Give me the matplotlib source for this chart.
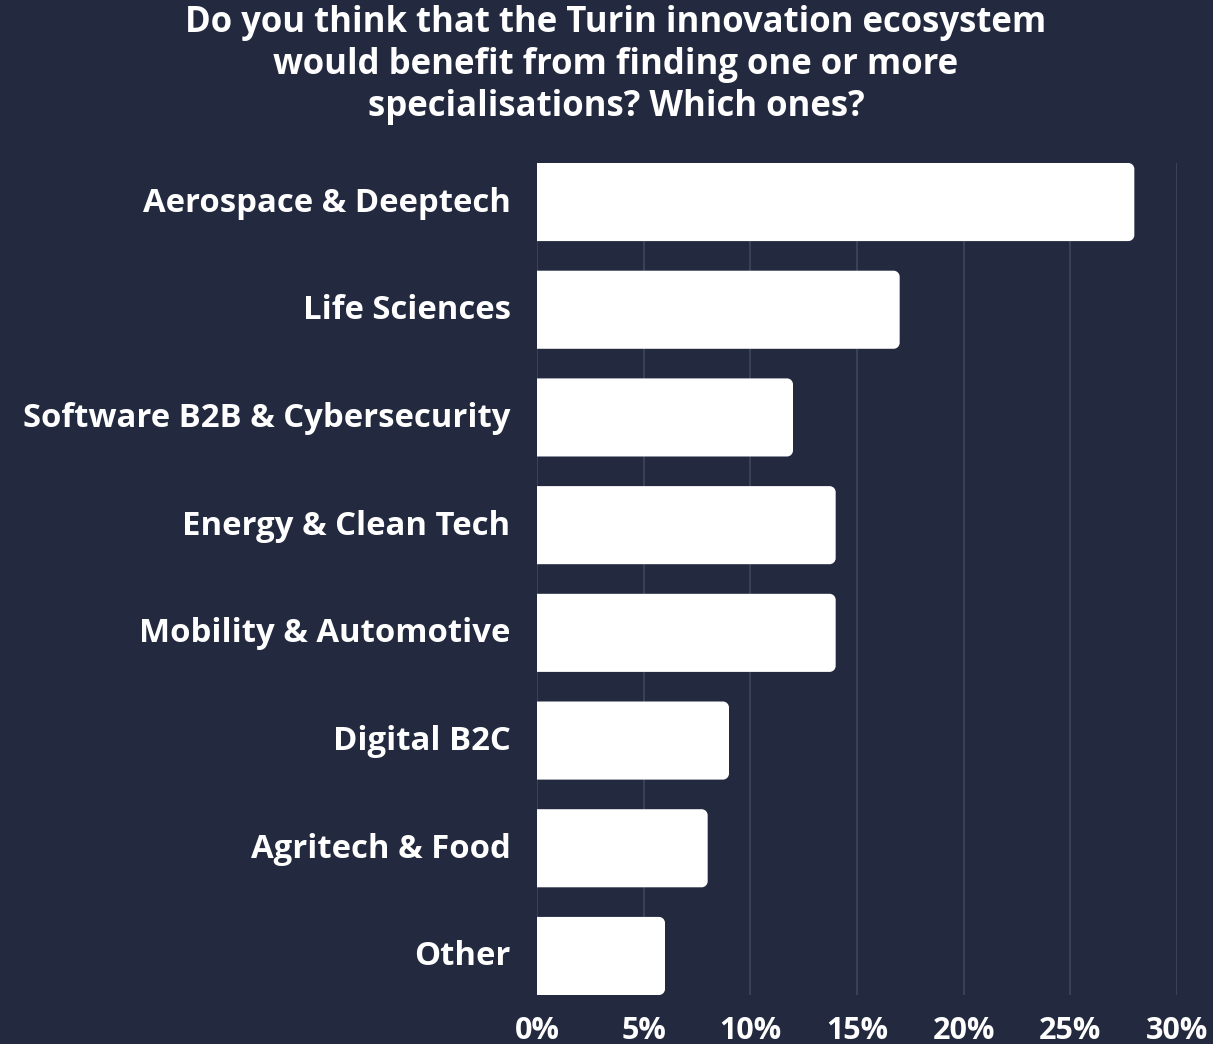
import matplotlib
matplotlib.use("Agg")
import matplotlib.pyplot as plt
import matplotlib.transforms as mtransforms
from matplotlib.patches import PathPatch
from matplotlib.path import Path
from matplotlib.ticker import FuncFormatter

# Survey answers (share of respondents, %)
categories = [
    "Aerospace & Deeptech",
    "Life Sciences",
    "Software B2B & Cybersecurity",
    "Energy & Clean Tech",
    "Mobility & Automotive",
    "Digital B2C",
    "Agritech & Food",
    "Other",
]
shares = [28, 17, 12, 14, 14, 9, 8, 6]
x_ticks = [0, 5, 10, 15, 20, 25, 30]

title = ("Do you think that the Turin innovation ecosystem\n"
         "would benefit from finding one or more\n"
         "specialisations? Which ones?")

BG = "#232a3f"
GRID = "#3c4458"
FONT = ["Open Sans", "DejaVu Sans"]

W, H, DPI = 1213, 1044, 100
fig = plt.figure(figsize=(W / DPI, H / DPI), dpi=DPI, facecolor=BG)
ax = fig.add_axes([537 / W, 1 - 995 / H, (1177 - 537) / W, (995 - 163) / H])
ax.set_facecolor(BG)

bar_h = 0.725
ypos = list(range(len(categories)))
bars = ax.barh(ypos, shares, height=bar_h, color="white", linewidth=0, zorder=3)

ax.set_xlim(0, 30)
ax.set_ylim(len(categories) - 1 + bar_h / 2, -bar_h / 2)


def right_rounded(x0, y0, w, h, rx, ry):
    """Rectangle path with square left corners and rounded right corners."""
    k = 0.5523
    x1, y1 = x0 + w, y0 + h
    verts = [
        (x0, y0), (x1 - rx, y0),
        (x1 - rx + k * rx, y0), (x1, y0 + ry - k * ry), (x1, y0 + ry),
        (x1, y1 - ry),
        (x1, y1 - ry + k * ry), (x1 - rx + k * rx, y1), (x1 - rx, y1),
        (x0, y1), (x0, y0),
    ]
    codes = [Path.MOVETO, Path.LINETO,
             Path.CURVE4, Path.CURVE4, Path.CURVE4,
             Path.LINETO,
             Path.CURVE4, Path.CURVE4, Path.CURVE4,
             Path.LINETO, Path.CLOSEPOLY]
    return Path(verts, codes)


# rounded right ends, radius given in pixels
fig.canvas.draw()
bb = ax.get_window_extent()
px_x = bb.width / 30
px_y = bb.height / (len(categories) - 1 + bar_h)
r_px = 6
for b in bars:
    x0, y0, w, h = b.get_x(), b.get_y(), b.get_width(), b.get_height()
    b.set_visible(False)
    path = right_rounded(x0, y0, w, h, r_px / px_x, r_px / px_y)
    ax.add_patch(PathPatch(path, facecolor="white", edgecolor="none", zorder=3))

ax.set_xticks(x_ticks)
ax.xaxis.set_major_formatter(FuncFormatter(lambda v, p: f"{v:.0f}%"))
ax.grid(axis="x", color=GRID, linewidth=1.3, zorder=0)
ax.set_axisbelow(True)
for s in ax.spines.values():
    s.set_visible(False)
ax.tick_params(axis="both", length=0, colors="white")
ax.tick_params(axis="x", pad=15)
ax.tick_params(axis="y", pad=19)

ax.set_yticks(ypos)
ax.set_yticklabels(categories)
lift = mtransforms.ScaledTranslation(0, 3 / DPI, fig.dpi_scale_trans)
for lab in ax.get_yticklabels():
    lab.set_fontfamily(FONT)
    lab.set_fontweight("bold")
    lab.set_fontsize(23.7)
    lab.set_color("white")
    lab.set_transform(lab.get_transform() + lift)
for lab in ax.get_xticklabels():
    lab.set_fontfamily(FONT)
    lab.set_fontweight("bold")
    lab.set_fontsize(22)
    lab.set_color("white")

fig.text(616 / W, 1 - 65 / H, title, ha="center", va="center",
         fontsize=25, fontweight="bold", family=FONT, color="white",
         linespacing=1.24)

fig.savefig("out.png", dpi=DPI, facecolor=BG)
